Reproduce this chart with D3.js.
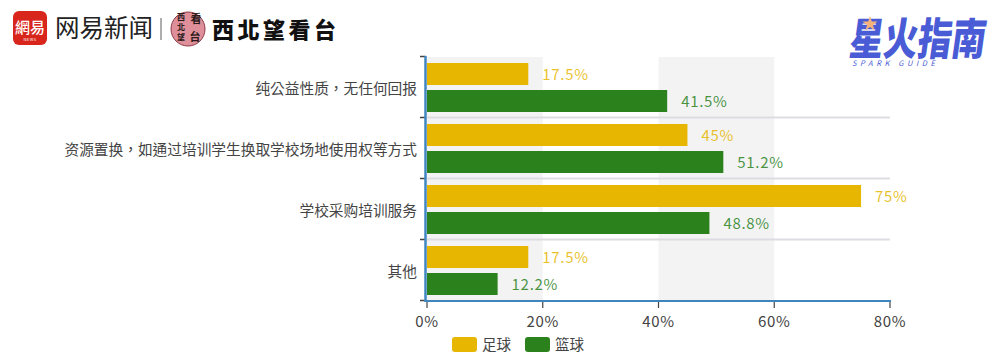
<!DOCTYPE html>
<html lang="zh-Hant">
<head>
<meta charset="utf-8">
<script src="https://cdn.jsdelivr.net/npm/d3@7"></script>
<style>
html, body { margin: 0; padding: 0; background: #fff; }
svg { display: block; }
text { font-family: "Noto Sans CJK SC", "Noto Sans", sans-serif; }
</style>
</head>
<body>
<svg id="chart" width="1003" height="363"></svg>
<script>
const categories = ['纯公益性质，无任何回报', '资源置换，如通过培训学生换取学校场地使用权等方式', '学校采购培训服务', '其他'];
const football = [17.5, 45, 75, 17.5];
const basketball = [41.5, 51.2, 48.8, 12.2];
const footballLabels = ['17.5%', '45%', '75%', '17.5%'];
const basketballLabels = ['41.5%', '51.2%', '48.8%', '12.2%'];
const xTicks = [0, 20, 40, 60, 80];
const seriesNames = ['足球', '篮球'];
const colors = ['#e6b600', '#2b821d'];

const svg = d3.select('#chart');

const x = d3.scaleLinear().domain([0, 80]).range([427, 890]);
const y = d3.scaleBand().domain(categories).range([57, 301]);
const inner = d3.scaleBand().domain([0, 1]).range([0, y.bandwidth()]).paddingInner(5 / 27).paddingOuter(6 / 27);

// alternating background stripes
svg.append('g').selectAll('rect')
    .data([[0, 20], [40, 60]])
    .enter().append('rect')
    .attr('x', d => x(d[0]))
    .attr('y', 57)
    .attr('width', d => x(d[1]) - x(d[0]))
    .attr('height', 244)
    .attr('fill', '#f3f3f4');

// band separators
svg.append('g').selectAll('line')
    .data(categories.slice(1))
    .enter().append('line')
    .attr('x1', 427).attr('x2', 890)
    .attr('y1', d => y(d) - 0.5).attr('y2', d => y(d) - 0.5)
    .attr('stroke', '#dedbe2').attr('stroke-width', 2);

// bars
[football, basketball].forEach((values, s) => {
    const labels = s === 0 ? footballLabels : basketballLabels;
    const g = svg.append('g');
    g.selectAll('rect')
        .data(values)
        .enter().append('rect')
        .attr('x', x(0))
        .attr('y', (d, i) => y(categories[i]) + inner(s))
        .attr('width', d => x(d) - x(0))
        .attr('height', inner.bandwidth())
        .attr('fill', colors[s]);
    g.selectAll('text')
        .data(values)
        .enter().append('text')
        .attr('x', d => x(d) + 14)
        .attr('y', (d, i) => y(categories[i]) + inner(s) + inner.bandwidth() / 2 + 6)
        .attr('font-size', 15)
        .attr('letter-spacing', 0.7)
        .attr('fill', colors[s])
        .attr('fill-opacity', 0.85)
        .text((d, i) => labels[i]);
});

// y axis
const yAxis = svg.append('g');
yAxis.selectAll('line.tick')
    .data(d3.range(categories.length + 1))
    .enter().append('line').attr('class', 'tick')
    .attr('x1', 420).attr('x2', 426)
    .attr('y1', i => 57 + i * y.step() - 0.5).attr('y2', i => 57 + i * y.step() - 0.5)
    .attr('stroke', '#444').attr('stroke-width', 1.5);
yAxis.append('line')
    .attr('x1', 425.5).attr('x2', 425.5).attr('y1', 56).attr('y2', 302)
    .attr('stroke', '#3f85c0').attr('stroke-width', 2.5);
yAxis.selectAll('text')
    .data(categories)
    .enter().append('text')
    .attr('x', 417)
    .attr('y', d => y(d) + y.bandwidth() / 2 + 6)
    .attr('text-anchor', 'end')
    .attr('font-size', 14.7)
    .attr('font-family', '"Noto Sans CJK TC"')
    .attr('fill', '#444')
    .text(d => d);

// x axis
const xAxis = svg.append('g');
xAxis.append('line')
    .attr('x1', 425).attr('x2', 891).attr('y1', 301).attr('y2', 301)
    .attr('stroke', '#3f85c0').attr('stroke-width', 2);
xAxis.selectAll('line.tick')
    .data(xTicks)
    .enter().append('line').attr('class', 'tick')
    .attr('x1', d => x(d)).attr('x2', d => x(d))
    .attr('y1', 302).attr('y2', 308)
    .attr('stroke', '#444').attr('stroke-width', 1.2);
xAxis.selectAll('text')
    .data(xTicks)
    .enter().append('text')
    .attr('x', d => x(d))
    .attr('y', 327)
    .attr('text-anchor', 'middle')
    .attr('font-size', 15)
    .attr('letter-spacing', 0.7)
    .attr('fill', '#444')
    .text(d => d + '%');

// legend
const legendX = d3.scaleOrdinal().domain(seriesNames).range([452, 525]);
const legend = svg.append('g').selectAll('g')
    .data(seriesNames)
    .enter().append('g')
    .attr('transform', d => `translate(${legendX(d)},337)`);
legend.append('rect')
    .attr('width', 25).attr('height', 15).attr('rx', 3)
    .attr('fill', (d, i) => colors[i]);
legend.append('text')
    .attr('x', 30).attr('y', 13)
    .attr('font-size', 14.5)
    .attr('fill', '#444')
    .text(d => d);

// netease logo
const logo = svg.append('g');
logo.append('rect').attr('x', 13).attr('y', 11).attr('width', 34).attr('height', 34).attr('rx', 6).attr('fill', '#d8261d');
logo.append('text').attr('x', 30).attr('y', 33).attr('text-anchor', 'middle').attr('font-size', 15).attr('font-weight', 500).attr('fill', '#fff').text('網易');
logo.append('text').attr('x', 30).attr('y', 41).attr('text-anchor', 'middle').attr('font-size', 4).attr('letter-spacing', 0.5).attr('fill', '#fff').text('NEWS');
logo.append('text').attr('x', 55).attr('y', 37).attr('font-size', 24.5).attr('fill', '#222').text('网易新闻');
logo.append('line').attr('x1', 161).attr('x2', 161).attr('y1', 18).attr('y2', 40).attr('stroke', '#777').attr('stroke-width', 1.2);

// seal
logo.append('circle').attr('cx', 188).attr('cy', 29).attr('r', 17).attr('fill', '#de8f9a').attr('stroke', '#8c3a45');
[['看', 196, 23], ['西', 181, 20], ['北', 181, 30], ['台', 195, 41], ['望', 181, 40]].forEach(d => {
    logo.append('text').attr('x', d[1]).attr('y', d[2]).attr('text-anchor', 'middle')
        .attr('font-family', '"Noto Sans CJK SC"').attr('font-weight', 700)
        .attr('font-size', d[0] === '看' || d[0] === '台' ? 11 : 8).attr('fill', '#2a1a1a').text(d[0]);
});
logo.append('text').attr('x', 212).attr('y', 38).attr('font-size', 22).attr('font-weight', 900)
    .attr('letter-spacing', 3.5).attr('fill', '#111').text('西北望看台');

// spark guide logo
const spark = svg.append('g');
spark.append('text').attr('transform', 'translate(848,55) skewX(-8) scale(1,1.3)')
    .attr('font-size', 34).attr('font-weight', 900).attr('fill', '#4a5bd6').text('星火指南');
spark.append('path').attr('transform', 'translate(870,24)')
    .attr('d', d3.symbol().type(d3.symbolStar).size(70)()).attr('fill', '#f7b27a');
spark.append('text').attr('x', 852).attr('y', 66).attr('font-size', 7.5).attr('font-style', 'italic')
    .attr('letter-spacing', 3.6).attr('fill', '#4a5bd6').text('SPARK GUIDE');
</script>
</body>
</html>
